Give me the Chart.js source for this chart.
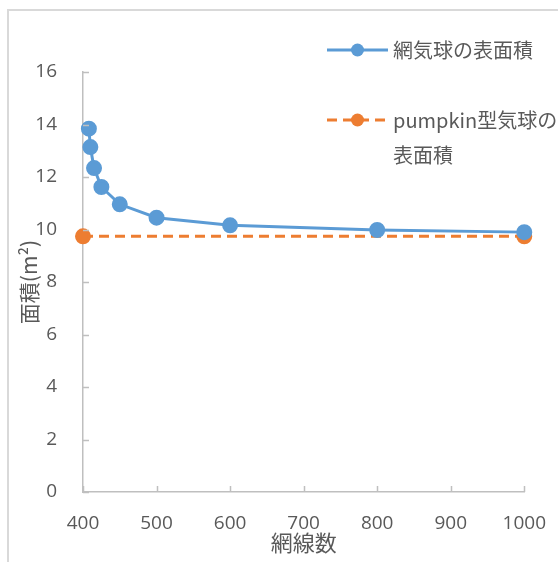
<!DOCTYPE html>
<html>
<head>
<meta charset="utf-8">
<script src="https://cdn.jsdelivr.net/npm/chart.js@4"></script>
<style>
html,body{margin:0;padding:0;background:#fff;}
#wrap{width:558px;height:562px;position:relative;}
</style>
</head>
<body>
<div id="wrap"><canvas id="c" width="558" height="562"></canvas></div>
<script>
// ---- data ----
const netXs = [408, 410, 415, 425, 450, 500, 600, 800, 1000];
const netAreas = [13.84, 13.14, 12.34, 11.62, 10.96, 10.45, 10.16, 9.98, 9.9];
const pumpkinXs = [400, 1000];
const pumpkinAreas = [9.74, 9.74];
const seriesNames = ['網気球の表面積', ['pumpkin型気球の', '表面積']];
const xTitle = '網線数';
const yTitle = '面積(m²)';
const xTickValues = [400, 500, 600, 700, 800, 900, 1000];
const yTickValues = [0, 2, 4, 6, 8, 10, 12, 14, 16];

const BLUE = '#5B9BD5', ORANGE = '#ED7D31', AXIS = '#BFBFBF', TXT = '#595959';
const CJK = '"Noto Sans CJK JP", "Open Sans", sans-serif';
const NUM = '"Open Sans", "Noto Sans", sans-serif';

const toPts = (xs, ys) => xs.map((x, i) => ({x: x, y: ys[i]}));

const framePlugin = {
  id: 'frame',
  beforeDraw(chart) {
    const ctx = chart.ctx;
    ctx.save();
    ctx.strokeStyle = '#D9D9D9';
    ctx.lineWidth = 2;
    ctx.strokeRect(8, 10, 700, 700);
    ctx.restore();
  },
  afterDraw(chart) {
    const ctx = chart.ctx;
    const xs = chart.scales.x, ys = chart.scales.y;
    const area = chart.chartArea;
    ctx.save();
    ctx.strokeStyle = AXIS;
    ctx.lineWidth = 1.5;
    ctx.beginPath();
    xs.ticks.forEach((t, i) => {
      const px = Math.round(xs.getPixelForTick(i)) + 0.5;
      ctx.moveTo(px, area.bottom);
      ctx.lineTo(px, area.bottom - 6);
    });
    ys.ticks.forEach((t, i) => {
      const py = Math.round(ys.getPixelForTick(i)) + 0.5;
      ctx.moveTo(area.left, py);
      ctx.lineTo(area.left + 6, py);
    });
    ctx.stroke();
    // legend
    const items = chart.data.datasets.map((d, i) => ({ds: d, name: seriesNames[i]}));
    const lx0 = 327, lx1 = 388, tx = 393;
    const rows = [50, 120];
    ctx.font = '20px ' + CJK;
    ctx.textBaseline = 'middle';
    ctx.textAlign = 'left';
    items.forEach((it, i) => {
      const y = rows[i];
      ctx.strokeStyle = it.ds.borderColor;
      ctx.lineWidth = it.ds.borderWidth;
      ctx.setLineDash(it.ds.borderDash || []);
      ctx.beginPath();
      ctx.moveTo(lx0, y); ctx.lineTo(lx1, y);
      ctx.stroke();
      ctx.setLineDash([]);
      ctx.fillStyle = it.ds.pointBackgroundColor;
      ctx.beginPath();
      ctx.arc((lx0 + lx1) / 2, y, 6.5, 0, Math.PI * 2);
      ctx.fill();
      ctx.fillStyle = TXT;
      const lines = Array.isArray(it.name) ? it.name : [it.name];
      lines.forEach((s, j) => ctx.fillText(s, tx, y + j * 35));
    });
    ctx.restore();
  }
};

new Chart(document.getElementById('c'), {
  type: 'scatter',
  data: {
    datasets: [
      {
        label: seriesNames[0],
        data: toPts(netXs, netAreas),
        showLine: true,
        borderColor: BLUE,
        backgroundColor: BLUE,
        pointBackgroundColor: BLUE,
        pointBorderColor: BLUE,
        borderWidth: 3,
        pointRadius: 6.5,
        pointHoverRadius: 6.5,
        clip: false
      },
      {
        label: seriesNames[1].join(''),
        data: toPts(pumpkinXs, pumpkinAreas),
        showLine: true,
        borderColor: ORANGE,
        backgroundColor: ORANGE,
        pointBackgroundColor: ORANGE,
        pointBorderColor: ORANGE,
        borderWidth: 3,
        borderDash: [10, 6],
        pointRadius: 6.5,
        pointHoverRadius: 6.5,
        clip: false
      }
    ]
  },
  options: {
    responsive: false,
    animation: false,
    events: [],
    layout: {padding: {top: 72, right: 33, left: 0, bottom: 0}},
    plugins: {legend: {display: false}, tooltip: {enabled: false}},
    scales: {
      x: {
        type: 'linear',
        min: 400, max: 1000,
        afterBuildTicks: (s) => { s.ticks = xTickValues.map(v => ({value: v})); },
        afterFit: (s) => { s.height = 70; },
        grid: {display: false},
        border: {display: true, color: AXIS, width: 1.5},
        ticks: {color: TXT, font: {family: NUM, size: 19}, padding: 12, maxRotation: 0, autoSkip: false,
                callback: (v) => String(v)},
        title: {display: true, text: xTitle, color: TXT, font: {family: CJK, size: 22}, padding: {top: 0, bottom: 6}}
      },
      y: {
        type: 'linear',
        min: 0, max: 16,
        afterBuildTicks: (s) => { s.ticks = yTickValues.map(v => ({value: v})); },
        afterFit: (s) => { s.width = 83; },
        grid: {display: false},
        border: {display: true, color: AXIS, width: 1.5},
        ticks: {color: TXT, font: {family: NUM, size: 19}, padding: 18, autoSkip: false,
                callback: (v) => String(v)},
        title: {display: true, text: yTitle, color: TXT, font: {family: CJK, size: 21}, padding: {top: 16, bottom: 0}}
      }
    }
  },
  plugins: [framePlugin]
});
</script>
</body>
</html>
